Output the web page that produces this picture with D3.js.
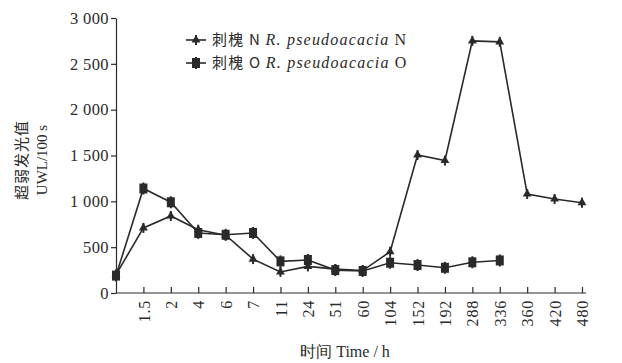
<!DOCTYPE html>
<html><head><meta charset="utf-8">
<script src="https://cdn.jsdelivr.net/npm/d3@7"></script>
<style>
html,body{margin:0;padding:0;background:#fff;}
svg{display:block;}
text{font-family:"Liberation Serif","DejaVu Serif",serif;fill:#2a2a2a;}
</style></head>
<body>
<svg id="chart" width="622" height="363"></svg>
<script>
const categories = ["0","1.5","2","4","6","7","11","24","51","60","104","152","192","288","336","360","420","480"];
const tickLabels = ["","1.5","2","4","6","7","11","24","51","60","104","152","192","288","336","360","420","480"];
const seriesN = [200, 710, 840, 690, 630, 370, 230, 290, 260, 245, 450, 1505, 1445, 2750, 2740, 1080, 1025, 985];
const seriesO = [190, 1140, 990, 655, 635, 655, 345, 360, 250, 240, 330, 305, 275, 335, 355, null, null, null];
const yTicks = [0, 500, 1000, 1500, 2000, 2500, 3000];
const yTickLabels = ["0", "500", "1 000", "1 500", "2 000", "2 500", "3 000"];

const svg = d3.select("#chart");
const ink = "#2a2a2a";
const x = d3.scalePoint().domain(categories).range([116, 582]).padding(0);
const y = d3.scaleLinear().domain([0, 3000]).range([293, 18]);

// axes
const yAxis = d3.axisLeft(y).tickValues(yTicks)
  .tickFormat((d, i) => yTickLabels[i]).tickSize(5).tickSizeOuter(0);
const gy = svg.append("g").attr("transform", "translate(116,0)").call(yAxis);
gy.selectAll("text").attr("font-size", 16.5).attr("x", -7).attr("letter-spacing", 0.4).style("font-family", "Liberation Serif");
gy.selectAll("line,path").attr("stroke", ink).attr("stroke-width", 1.2);

const xAxis = d3.axisBottom(x).tickValues(categories.slice(1))
  .tickFormat(d => tickLabels[categories.indexOf(d)]).tickSize(-6).tickSizeOuter(0);
const gx = svg.append("g").attr("transform", "translate(0,293)").call(xAxis);
gx.select("path.domain").attr("d", "M116,0H586");
gx.selectAll("line,path").attr("stroke", ink).attr("stroke-width", 1.2);
gx.selectAll("text").attr("font-size", 16).attr("letter-spacing", 0.8).attr("transform", "rotate(-90)")
  .attr("text-anchor", "end").attr("x", -7).attr("y", 0).attr("dy", "0.35em")
  .style("font-family", "Liberation Serif");

// lines
const line = d3.line().defined(d => d.v != null).x(d => x(d.c)).y(d => y(d.v));
const dN = categories.map((c, i) => ({c, v: seriesN[i]}));
const dO = categories.map((c, i) => ({c, v: seriesO[i]}));
svg.append("path").datum(dN).attr("d", line).attr("fill", "none").attr("stroke", ink).attr("stroke-width", 1.6);
svg.append("path").datum(dO).attr("d", line).attr("fill", "none").attr("stroke", ink).attr("stroke-width", 1.6);

// markers
function markN(g, cx, cy) {
  g.append("path").attr("d", d3.symbol(d3.symbolTriangle, 34)()).attr("transform", `translate(${cx},${cy})`).attr("fill", ink);
  g.append("line").attr("x1", cx).attr("x2", cx).attr("y1", cy - 5).attr("y2", cy + 5).attr("stroke", ink).attr("stroke-width", 2);
}
function markO(g, cx, cy) {
  g.append("rect").attr("x", cx - 4).attr("y", cy - 5).attr("width", 8).attr("height", 10).attr("fill", ink);
  g.append("line").attr("x1", cx).attr("x2", cx).attr("y1", cy - 6).attr("y2", cy + 6).attr("stroke", ink).attr("stroke-width", 2);
}
const gm = svg.append("g");
dO.filter(d => d.v != null).forEach(d => markO(gm, x(d.c), y(d.v)));
dN.forEach(d => markN(gm, x(d.c), y(d.v)));

// legend
const leg = [{y: 40, label: "N", f: markN}, {y: 63, label: "O", f: markO}];
leg.forEach(l => {
  svg.append("line").attr("x1", 186).attr("x2", 206).attr("y1", l.y).attr("y2", l.y).attr("stroke", ink).attr("stroke-width", 1.6);
  l.f(svg, 196, l.y);
  const t = svg.append("text").attr("x", 212).attr("y", l.y + 5).attr("font-size", 16).attr("letter-spacing", 1.2);
  t.append("tspan").text("刺槐 " + l.label + " ").style("font-family", "Noto Sans CJK SC, Liberation Serif").attr("font-size", 15);
  t.append("tspan").text("R. pseudoacacia").attr("font-style", "italic");
  t.append("tspan").text(" " + l.label);
});

// axis titles
const yt = svg.append("text").attr("transform", "translate(27,160) rotate(-90)").attr("text-anchor", "middle").attr("font-size", 15);
yt.append("tspan").attr("x", 0).attr("dy", 0).text("超弱发光值").style("font-family", "Noto Sans CJK SC").attr("letter-spacing", 1);
yt.append("tspan").attr("x", 0).attr("dy", 20).text("UWL/100 s");

svg.append("text").attr("x", 345).attr("y", 357).attr("text-anchor", "middle").attr("font-size", 16)
  .text("时间 Time / h");
</script>
</body></html>
